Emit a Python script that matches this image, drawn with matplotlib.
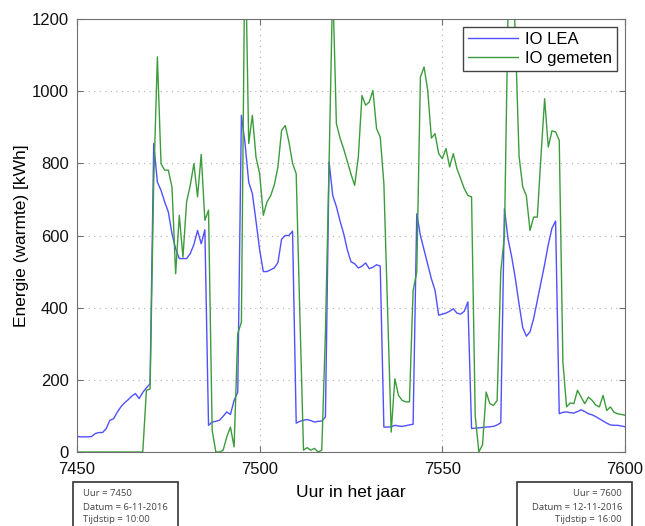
import numpy as np
import matplotlib
matplotlib.use("Agg")
import matplotlib.pyplot as plt
from matplotlib.patches import Rectangle

hours = list(range(7450, 7601))

io_lea = [
    43, 42, 42, 42, 43, 51, 54, 54, 65, 88,
    92, 110, 125, 136, 145, 155, 162, 148, 165, 178,
    189, 855, 748, 725, 693, 665, 605, 563, 536, 536,
    536, 550, 575, 614, 577, 616, 74, 83, 85, 88,
    99, 111, 104, 143, 166, 933, 855, 748, 716, 640,
    560, 500, 500, 505, 510, 525, 590, 600, 600, 612,
    80, 85, 88, 90, 87, 83, 85, 86, 97, 804,
    711, 680, 640, 605, 560, 527, 522, 510, 515, 524,
    508, 512, 519, 515, 69, 69, 70, 74, 72, 71,
    73, 75, 77, 660, 600, 560, 520, 480, 448, 379,
    382, 385, 390, 397, 385, 382, 390, 416, 65, 66,
    67, 68, 69, 70, 71, 75, 81, 674, 590, 540,
    480, 410, 345, 321, 333, 370, 420, 470, 520, 575,
    620, 640, 106, 110, 111, 109, 108, 112, 117, 112,
    106, 103, 98, 92, 86, 80, 75, 74, 74, 72,
    70,
]

io_gemeten = [
    0, 0, 0, 0, 0, 0, 0, 0, 0, 0,
    0, 0, 0, 0, 0, 0, 0, 0, 0, 171,
    175, 750, 1095, 799, 781, 781, 734, 494, 656, 540,
    693, 739, 799, 707, 825, 642, 670, 60, 0, 0,
    5, 42, 69, 14, 328, 360, 1450, 855, 933, 817,
    771, 656, 693, 710, 740, 790, 891, 905, 860, 800,
    771, 380, 5, 12, 5, 10, 0, 5, 330, 800,
    1300, 910, 870, 840, 805, 770, 739, 817, 988, 961,
    970, 1002, 896, 873, 744, 400, 55, 203, 157, 143,
    139, 139, 448, 499, 1039, 1067, 1002, 870, 882, 827,
    813, 841, 790, 827, 785, 758, 730, 711, 707, 100,
    0, 20, 166, 134, 129, 143, 500, 600, 1250, 1400,
    1150, 820, 735, 710, 614, 651, 651, 820, 979, 845,
    890, 887, 864, 250, 125, 136, 134, 171, 152, 134,
    152, 143, 130, 125, 157, 115, 125, 110, 106, 104,
    102,
]

x_ticks = [7450, 7500, 7550, 7600]
y_ticks = [0, 200, 400, 600, 800, 1000, 1200]

label_lea = "IO LEA"
label_gem = "IO gemeten"
xlabel = "Uur in het jaar"
ylabel = "Energie (warmte) [kWh]"
box_left = ["Uur = 7450", "Datum = 6-11-2016", "Tijdstip = 10:00"]
box_right = ["Uur = 7600", "Datum = 12-11-2016", "Tijdstip = 16:00"]

plt.rcParams['font.family'] = ['Liberation Sans', 'DejaVu Sans']

fig = plt.figure(figsize=(6.45, 5.26), dpi=100)
ax = fig.add_axes([77/645, 1 - 452/526, 548/645, 433/526])

ax.plot(hours, io_lea, color='#5050ff', lw=1.0, label=label_lea)
ax.plot(hours, io_gemeten, color='#3c9c3c', lw=1.0, label=label_gem)

ax.set_xlim(7450, 7600)
ax.set_ylim(0, 1200)
ax.set_xticks(x_ticks)
ax.set_yticks(y_ticks)
ax.grid(True, linestyle=(0, (1, 4)), color='#b0b0b0', lw=0.8)
for s in ax.spines.values():
    s.set_color('#707070')
ax.tick_params(direction='in', top=True, right=True, length=4, color='#707070',
               labelsize=12, labelcolor='#111111')
ax.tick_params(axis='x', pad=7)
ax.tick_params(axis='y', pad=6)
ax.set_xlabel(xlabel, fontsize=12.5, labelpad=6)
ax.set_ylabel(ylabel, fontsize=12.5, labelpad=2)

leg = ax.legend(loc='upper right', fontsize=12, fancybox=False, framealpha=1,
                edgecolor='#444444', borderaxespad=0.5, handlelength=3.0,
                borderpad=0.3, labelspacing=0.2, handletextpad=0.4)
leg.get_frame().set_linewidth(1.0)

# info boxes below the axes
fig.patches.append(Rectangle((73/645, -0.02), 105/645, 0.02 + 1 - 482/526,
                             transform=fig.transFigure, fill=False,
                             edgecolor='#333333', lw=1.2, clip_on=False))
fig.patches.append(Rectangle((517/645, -0.02), 115/645, 0.02 + 1 - 482/526,
                             transform=fig.transFigure, fill=False,
                             edgecolor='#333333', lw=1.2, clip_on=False))
ys = [1 - 494/526, 1 - 507/526, 1 - 520/526]
for t, y in zip(box_left, ys):
    fig.text(83/645, y, t, fontsize=6.8, family=['Open Sans', 'DejaVu Sans'],
             color='#444444', ha='left', va='center')
for t, y in zip(box_right, ys):
    fig.text(622/645, y, t, fontsize=6.8, family=['Open Sans', 'DejaVu Sans'],
             color='#444444', ha='right', va='center')

fig.savefig('out.png', dpi=100)
